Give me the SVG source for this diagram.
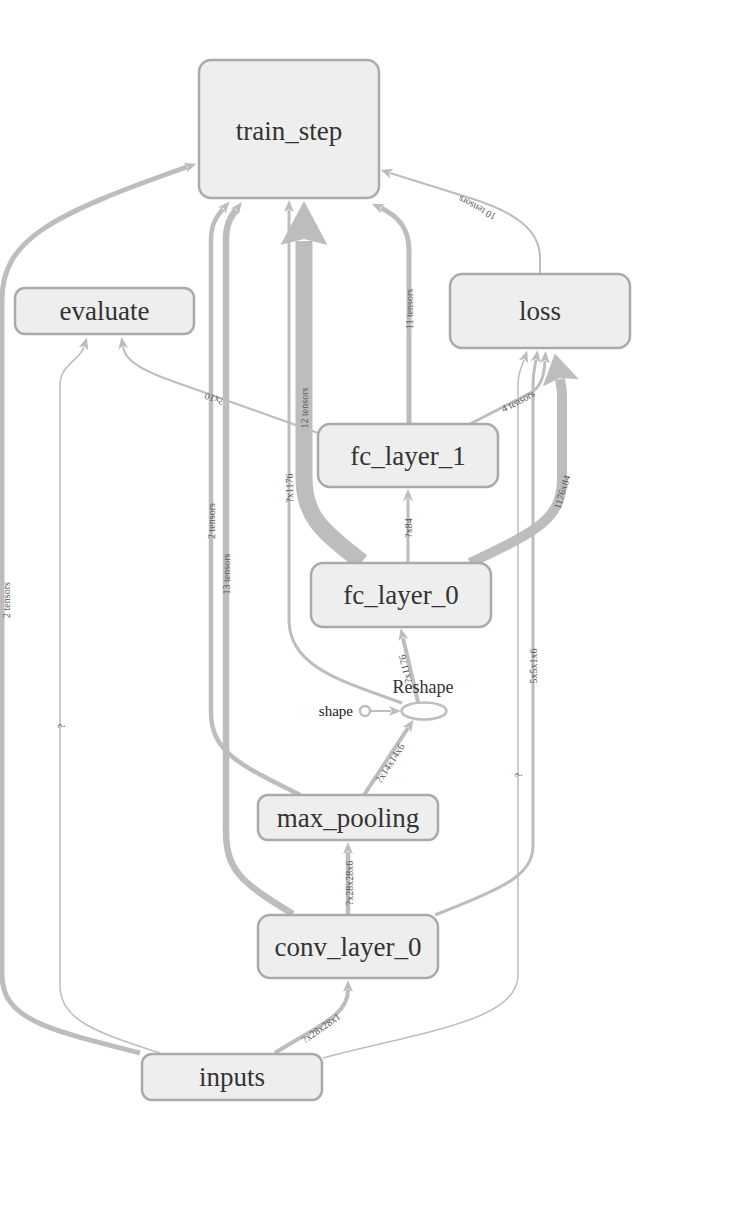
<svg xmlns="http://www.w3.org/2000/svg" width="750" height="1220" viewBox="0 0 750 1220">
  <style>
    .node rect { fill: #eeeeee; stroke: #aaaaaa; stroke-width: 2.5; }
    .node text { font-family: "Liberation Serif", "Times New Roman", serif; font-size: 27px; fill: #333333; text-anchor: middle; }
    .op ellipse, .op circle { fill: #ffffff; stroke: #bdbdbd; stroke-width: 2.5; }
    .edge { fill: none; stroke: #bdbdbd; stroke-linecap: butt; }
    .arr { marker-end: url(#head); }
    .elabel { font-family: "Liberation Serif", "Times New Roman", serif; font-size: 10px; fill: #555555; text-anchor: middle; }
  </style>
  <defs>
    <marker id="head" viewBox="0 0 12 10" refX="2" refY="5" markerWidth="12" markerHeight="10" markerUnits="userSpaceOnUse" orient="auto">
      <path d="M0,0 L12,5 L0,10 L3,5 z" fill="#bdbdbd"/>
    </marker>
    <marker id="head-mid" viewBox="0 0 30 37" refX="4" refY="18.5" markerWidth="30" markerHeight="37" markerUnits="userSpaceOnUse" orient="auto">
      <path d="M0,0 L30,18.5 L0,37 L5,18.5 z" fill="#bdbdbd"/>
    </marker>
    <marker id="head-xl" viewBox="0 0 44 47" refX="4" refY="23.5" markerWidth="44" markerHeight="47" markerUnits="userSpaceOnUse" orient="auto">
      <path d="M0,0 L44,23.5 L0,47 L6,23.5 z" fill="#bdbdbd"/>
    </marker>
  </defs>

  <!-- connectors -->
  <g id="edges">
    <!-- inputs -> train_step -->
    <path class="edge arr" stroke-width="5" d="M140,1053 C50,1030 2,1020 2,975 L2,300 C2,240 50,215 187,167"/>
    <!-- inputs -> evaluate -->
    <path class="edge arr" stroke-width="1.5" d="M160,1053 C95,1032 60,1020 60,985 L60,385 C60,365 80,360 84,347"/>
    <!-- inputs -> loss -->
    <path class="edge arr" stroke-width="1.5" d="M323,1058 C430,1030 518,1020 518,975 L518,385 C518,372 522,366 524,360"/>
    <!-- inputs -> conv_layer_0 -->
    <path class="edge arr" stroke-width="4" d="M275,1053 C320,1025 348,1015 348,990"/>
    <!-- conv_layer_0 -> max_pooling -->
    <path class="edge arr" stroke-width="4.5" d="M348,915 L348,852"/>
    <!-- conv_layer_0 -> train_step -->
    <path class="edge arr" stroke-width="6.5" d="M293,914 C240,882 226,870 226,830 L226,240 C226,225 230,218 236,210"/>
    <!-- conv_layer_0 -> loss -->
    <path class="edge arr" stroke-width="3" d="M435,915 C505,888 533,875 533,845 L533,385 C533,372 535,366 536,360"/>
    <!-- max_pooling -> train_step -->
    <path class="edge arr" stroke-width="4.5" d="M300,795 C240,765 211,752 211,712 L211,240 C211,225 216,217 223,209"/>
    <!-- max_pooling -> Reshape -->
    <path class="edge arr" stroke-width="4" d="M364,795 L408,728"/>
    <!-- shape -> Reshape -->
    <path class="edge arr" stroke-width="2" d="M370,711 L391,711"/>
    <!-- Reshape -> fc_layer_0 -->
    <path class="edge arr" stroke-width="4" d="M418,702 L403,638"/>
    <!-- Reshape -> train_step -->
    <path class="edge arr" stroke-width="3" d="M402,703 C345,682 289,668 289,620 L289,210"/>
    <!-- fc_layer_0 -> train_step -->
    <path class="edge" stroke-width="17" marker-end="url(#head-xl)" d="M362,562 C320,530 304,515 304,478 L304,241"/>
    <!-- fc_layer_0 -> fc_layer_1 -->
    <path class="edge arr" stroke-width="3" d="M408,563 L408,499"/>
    <!-- fc_layer_0 -> loss -->
    <path class="edge" stroke-width="10" marker-end="url(#head-mid)" d="M470,563 C540,530 562,518 562,478 L562,396 C562,388 561,384 560,379"/>
    <!-- fc_layer_1 -> loss -->
    <path class="edge arr" stroke-width="3" d="M470,424 L530,393 C540,388 544,378 545,361"/>
    <!-- fc_layer_1 -> evaluate -->
    <path class="edge arr" stroke-width="2" d="M318,433 L175,382 C140,370 125,360 123,347"/>
    <!-- fc_layer_1 -> train_step -->
    <path class="edge arr" stroke-width="5" d="M409,424 L409,250 C409,230 400,217 381,208"/>
    <!-- loss -> train_step -->
    <path class="edge arr" stroke-width="2" d="M540,273 L540,258 C540,230 515,212 470,198 L390,173"/>

    <!-- edge labels -->
    <text class="elabel" transform="translate(6,600) rotate(-90)" dy="3.5">2 tensors</text>
    <text class="elabel" transform="translate(61,726) rotate(-90)" dy="3.5">?</text>
    <text class="elabel" transform="translate(518,775) rotate(-90)" dy="3.5">?</text>
    <text class="elabel" transform="translate(533,666) rotate(-90)" dy="3.5">5x5x1x6</text>
    <text class="elabel" transform="translate(211,521) rotate(-90)" dy="3.5">2 tensors</text>
    <text class="elabel" transform="translate(226,574) rotate(-90)" dy="3.5">13 tensors</text>
    <text class="elabel" transform="translate(289,488) rotate(-90)" dy="3.5">?x1176</text>
    <text class="elabel" transform="translate(304,408) rotate(-90)" dy="3.5">12 tensors</text>
    <text class="elabel" transform="translate(409,309) rotate(-90)" dy="3.5">11 tensors</text>
    <text class="elabel" transform="translate(408,528) rotate(-90)" dy="3.5">?x84</text>
    <text class="elabel" transform="translate(562,492) rotate(-73)" dy="3.5">1176x84</text>
    <text class="elabel" transform="translate(518,401) rotate(-28)" dy="3.5">4 tensors</text>
    <text class="elabel" transform="translate(477,208) rotate(208)" dy="3.5">10 tensors</text>
    <text class="elabel" transform="translate(214,399) rotate(200)" dy="3.5">?x10</text>
    <text class="elabel" transform="translate(405,669) rotate(-103)" dy="3.5">?x1176</text>
    <text class="elabel" transform="translate(390,763) rotate(-57)" dy="3.5">?x14x14x6</text>
    <text class="elabel" transform="translate(349,883) rotate(-90)" dy="3.5">?x28x28x6</text>
    <text class="elabel" transform="translate(321,1028) rotate(-35)" dy="3.5">?x28x28x1</text>
  </g>

  <!-- nodes -->
  <g id="train_step" class="node">
    <rect x="199" y="60" width="180" height="138" rx="12"/>
    <text x="289" y="140">train_step</text>
  </g>
  <g id="evaluate" class="node">
    <rect x="15" y="288" width="179" height="46" rx="10"/>
    <text x="104.5" y="320">evaluate</text>
  </g>
  <g id="loss" class="node">
    <rect x="450" y="274" width="180" height="74" rx="12"/>
    <text x="540" y="320">loss</text>
  </g>
  <g id="fc_layer_1" class="node">
    <rect x="318" y="424" width="180" height="63" rx="12"/>
    <text x="408" y="465">fc_layer_1</text>
  </g>
  <g id="fc_layer_0" class="node">
    <rect x="311" y="563" width="180" height="64" rx="12"/>
    <text x="401" y="604">fc_layer_0</text>
  </g>
  <g id="reshape" class="op">
    <ellipse cx="424" cy="711" rx="22.5" ry="8.5"/>
    <text x="423" y="693" font-family="'Liberation Serif', 'Times New Roman', serif" font-size="18" fill="#333333" text-anchor="middle">Reshape</text>
  </g>
  <g id="shape" class="op">
    <circle cx="365" cy="711" r="5"/>
    <text x="353" y="716" font-family="'Liberation Serif', 'Times New Roman', serif" font-size="15" fill="#222222" text-anchor="end">shape</text>
  </g>
  <g id="max_pooling" class="node">
    <rect x="258" y="795" width="180" height="45" rx="10"/>
    <text x="348" y="827">max_pooling</text>
  </g>
  <g id="conv_layer_0" class="node">
    <rect x="258" y="915" width="180" height="63" rx="12"/>
    <text x="348" y="956">conv_layer_0</text>
  </g>
  <g id="inputs" class="node">
    <rect x="142" y="1054" width="180" height="46" rx="10"/>
    <text x="232" y="1086">inputs</text>
  </g>
</svg>
